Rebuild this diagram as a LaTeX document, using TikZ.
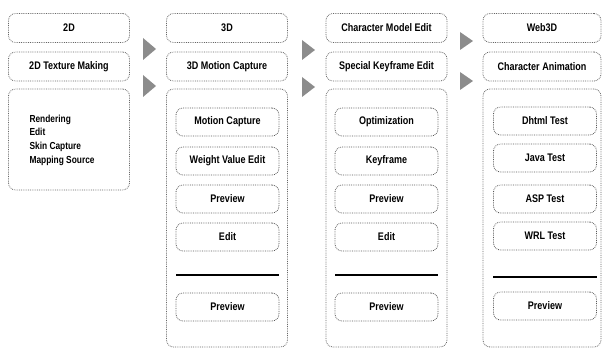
\documentclass[tikz,border=0pt]{standalone}
\usepackage{fontspec}
\setmainfont[FakeStretch=0.82]{Liberation Sans}
\begin{document}
\begin{tikzpicture}[x=1pt,y=-1pt,
  outerbox/.style={draw=black!60, densely dotted, line width=0.8pt, rounded corners=7pt, minimum width=121pt},
  topbox/.style={outerbox, minimum height=29pt, font=\bfseries\fontsize{11}{12}\selectfont},
  bigbox/.style={outerbox},
  innerbox/.style={draw=black!65, densely dotted, line width=0.8pt, rounded corners=7pt, minimum width=103pt, minimum height=28pt, font=\bfseries\fontsize{11}{12}\selectfont},
  divider/.style={line width=1.1pt},
  tri/.style={fill=black!45}
]
\useasboundingbox (0,0) rectangle (603,352);

% column 1
\node[topbox] (c1a) at (69,28) {2D};
\node[topbox] (c1b) at (69,66.5) {2D Texture Making};
\node[bigbox, minimum height=101pt] (c1c) at (69,139.5) {};
\node[anchor=west, align=left, font=\bfseries\fontsize{10.2}{13.6}\selectfont] (c1t) at (26,140) {Rendering\\Edit\\Skin Capture\\Mapping Source};

% column 2
\node[topbox] (c2a) at (227,28) {3D};
\node[topbox] (c2b) at (227,66.5) {3D Motion Capture};
\node[bigbox, minimum height=258pt] (c2c) at (227,218) {};
\node[innerbox] (c2r1) at (227.5,122) {Motion Capture};
\node[innerbox] (c2r2) at (227.5,161) {Weight Value Edit};
\node[innerbox] (c2r3) at (227.5,199) {Preview};
\node[innerbox] (c2r4) at (227.5,237) {Edit};
\node[innerbox] (c2r5) at (227.5,307) {Preview};
\coordinate (c2l1) at (176,275);
\coordinate (c2l2) at (279,275);
\draw[divider] (c2l1) -- (c2l2);

% column 3
\node[topbox] (c3a) at (386.5,28) {Character Model Edit};
\node[topbox] (c3b) at (386.5,66.5) {Special Keyframe Edit};
\node[bigbox, minimum height=258pt] (c3c) at (386.5,218) {};
\node[innerbox] (c3r1) at (386.5,122) {Optimization};
\node[innerbox] (c3r2) at (386.5,161) {Keyframe};
\node[innerbox] (c3r3) at (386.5,199) {Preview};
\node[innerbox] (c3r4) at (386.5,237) {Edit};
\node[innerbox] (c3r5) at (386.5,307) {Preview};
\coordinate (c3l1) at (335,275);
\coordinate (c3l2) at (438,275);
\draw[divider] (c3l1) -- (c3l2);

% column 4
\node[topbox, minimum width=118pt] (c4a) at (542,28) {Web3D};
\node[topbox, minimum width=118pt] (c4b) at (542,66.5) {Character Animation};
\node[bigbox, minimum width=118pt, minimum height=258pt] (c4c) at (542,218) {};
\node[innerbox] (c4r1) at (545,121) {Dhtml Test};
\node[innerbox] (c4r2) at (545,158) {Java Test};
\node[innerbox] (c4r3) at (545,199) {ASP Test};
\node[innerbox] (c4r4) at (545,236) {WRL Test};
\node[innerbox] (c4r5) at (545,306) {Preview};
\coordinate (c4l1) at (493,277);
\coordinate (c4l2) at (597,277);
\draw[divider] (c4l1) -- (c4l2);

% arrows (triangles)
\fill[tri] (143,38) -- (156,49) -- (143,60) -- cycle;
\fill[tri] (143,75) -- (156,86) -- (143,97) -- cycle;
\fill[tri] (302,40) -- (315,50) -- (302,60) -- cycle;
\fill[tri] (302,77) -- (315,87) -- (302,97) -- cycle;
\fill[tri] (460,32) -- (473,41) -- (460,50) -- cycle;
\fill[tri] (460,72) -- (473,81) -- (460,90) -- cycle;
\end{tikzpicture}
\end{document}
